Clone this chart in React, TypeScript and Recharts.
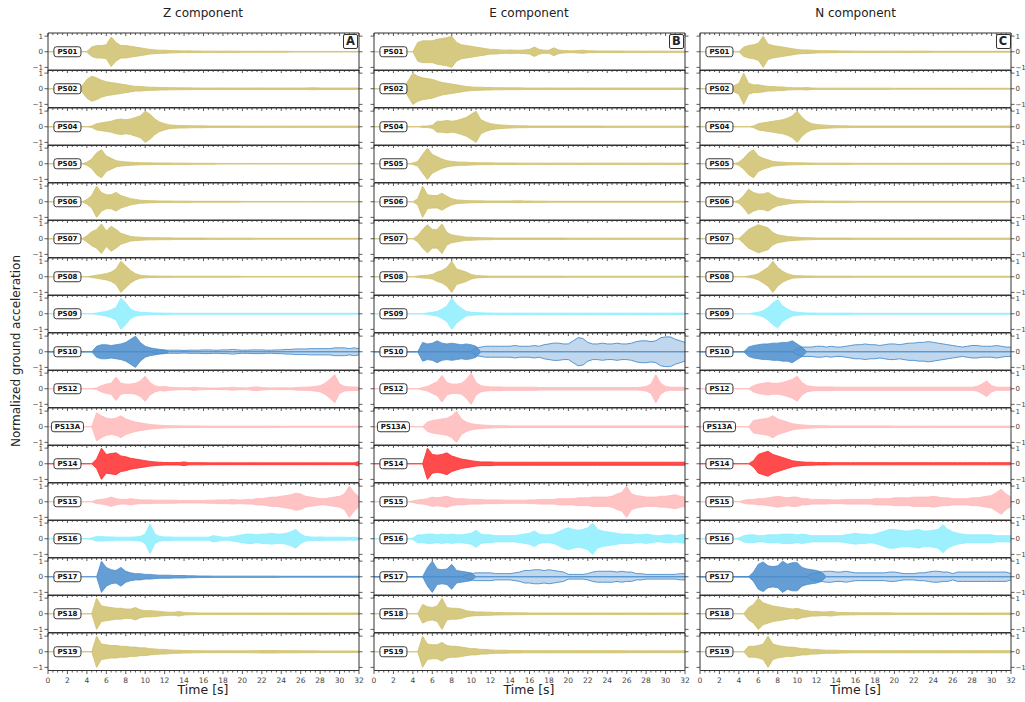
import { Area, AreaChart, ReferenceDot, XAxis, YAxis } from "recharts"

// time axis, one sample every 0.5 s
const TIME = [
  0, 0.5, 1, 1.5, 2, 2.5, 3, 3.5, 4, 4.5, 5, 5.5, 6, 6.5, 7, 7.5,
  8, 8.5, 9, 9.5, 10, 10.5, 11, 11.5, 12, 12.5, 13, 13.5, 14, 14.5, 15, 15.5,
  16, 16.5, 17, 17.5, 18, 18.5, 19, 19.5, 20, 20.5, 21, 21.5, 22, 22.5, 23, 23.5,
  24, 24.5, 25, 25.5, 26, 26.5, 27, 27.5, 28, 28.5, 29, 29.5, 30, 30.5, 31, 31.5, 32,
]
const Y_TICKS = [-1, 0, 1]

const STATIONS = ["PS01", "PS02", "PS04", "PS05", "PS06", "PS07", "PS08", "PS09", "PS10", "PS12", "PS13A", "PS14", "PS15", "PS16", "PS17", "PS18", "PS19"]

const OLIVE = "#cfc06c"
const CYAN = "#8ceeff"
const BLUE = "#4a8dcc"
const PINK = "#ffb9b9"
const RED = "#ff2b2b"
const STATION_COLORS = [OLIVE, OLIVE, OLIVE, OLIVE, OLIVE, OLIVE, OLIVE, CYAN, BLUE, PINK, PINK, RED, PINK, CYAN, BLUE, OLIVE, OLIVE]

const COMPONENTS = ["Z component", "E component", "N component"]
const LETTERS = ["A", "B", "C"]

// ---- envelope amplitudes (normalized), Z component ----
const Z_PS01 = [
  0, 0, 0, 0, 0, 0, 0, 0,
  .02, .3, .4, .4, .45, .95, .6, .4,
  .4, .35, .3, .25, .2, .15, .12, .1,
  .1, .08, .07, .06, .05, .06, .05, .05,
  .04, .04, .04, .04, .04, .04, .04, .04,
  .03, .03, .03, .03, .03, .03, .03, .03,
  .03, .03, .02, .02, .02, .02, .02, .02,
  .02, .02, .02, .02, .02, .02, .02, .02,
  .02]
const Z_PS02 = [
  0, 0, 0, 0, 0, 0, 0, .2,
  .6, .8, .7, .55, .45, .4, .35, .3,
  .25, .2, .15, .15, .12, .1, .1, .08,
  .08, .07, .07, .06, .06, .06, .05, .05,
  .05, .05, .05, .05, .05, .05, .05, .05,
  .05, .05, .05, .05, .05, .05, .05, .05,
  .05, .05, .05, .05, .05, .05, .06, .06,
  .05, .05, .05, .05, .05, .05, .05, .05,
  .05]
const Z_PS04 = [
  0, 0, 0, 0, 0, 0, 0, 0,
  0, .05, .2, .25, .3, .35, .45, .5,
  .45, .5, .6, .7, 1, .8, .5, .3,
  .2, .12, .1, .08, .08, .07, .06, .06,
  .06, .05, .05, .05, .05, .05, .05, .05,
  .04, .04, .04, .04, .04, .04, .04, .04,
  .04, .04, .04, .04, .04, .04, .04, .04,
  .04, .04, .04, .04, .04, .04, .04, .04,
  .04]
const Z_PS05 = [
  0, 0, 0, 0, 0, 0, 0, 0,
  .1, .3, .7, .9, .5, .35, .2, .15,
  .12, .1, .08, .07, .06, .06, .05, .05,
  .05, .05, .04, .04, .04, .04, .03, .03,
  .03, .03, .03, .02, .02, .02, .02, .02,
  .02, .02, .02, .02, .02, .02, .02, .02,
  .02, .02, .02, .02, .02, .02, .02, .02,
  .02, .02, .02, .02, .02, .02, .02, .02,
  .02]
const Z_PS06 = [
  0, 0, 0, 0, 0, 0, 0, 0,
  .15, .4, 1, .6, .45, .45, .6, .4,
  .3, .2, .15, .1, .08, .07, .06, .05,
  .05, .05, .04, .04, .04, .04, .03, .03,
  .03, .03, .03, .03, .03, .03, .03, .03,
  .02, .02, .02, .02, .02, .02, .02, .02,
  .02, .02, .02, .02, .02, .02, .02, .02,
  .02, .02, .02, .02, .02, .02, .02, .02,
  .02]
const Z_PS07 = [
  0, 0, 0, 0, 0, 0, 0, 0,
  .2, .45, .6, .95, .5, .8, .6, .35,
  .25, .15, .12, .1, .08, .07, .07, .06,
  .06, .06, .05, .05, .05, .05, .05, .05,
  .05, .04, .04, .04, .04, .04, .04, .04,
  .04, .04, .04, .03, .03, .03, .03, .03,
  .03, .03, .03, .03, .03, .03, .03, .03,
  .03, .03, .03, .03, .03, .03, .03, .03,
  .03]
const Z_PS08 = [
  0, 0, 0, 0, 0, 0, 0, 0,
  0, .05, .1, .15, .2, .3, .5, 1,
  .7, .4, .2, .1, .07, .05, .05, .04,
  .04, .04, .03, .03, .03, .03, .03, .03,
  .03, .03, .03, .03, .03, .03, .03, .03,
  .02, .02, .02, .02, .02, .02, .02, .02,
  .02, .02, .02, .02, .02, .02, .02, .02,
  .02, .02, .02, .02, .02, .02, .02, .02,
  .02]
const Z_PS09 = [
  0, 0, 0, 0, 0, 0, 0, 0,
  0, 0, .05, .1, .15, .25, .4, 1,
  .7, .3, .15, .1, .08, .06, .05, .05,
  .04, .04, .03, .03, .03, .03, .03, .03,
  .03, .03, .03, .03, .03, .03, .03, .03,
  .03, .03, .03, .03, .03, .03, .03, .03,
  .03, .03, .03, .03, .03, .03, .03, .03,
  .03, .03, .03, .03, .03, .03, .03, .03,
  .03]
const Z_PS10 = [
  0, 0, 0, 0, 0, 0, 0, 0,
  0, 0, .35, .45, .45, .4, .45, .5,
  .6, .8, 1, .6, .35, .25, .2, .15,
  .12, 0, 0, 0, 0, 0, 0, 0,
  0, 0, 0, 0, 0, 0, 0, 0,
  0, 0, 0, 0, 0, 0, 0, 0,
  0, 0, 0, 0, 0, 0, 0, 0,
  0, 0, 0, 0, 0, 0, 0, 0,
  0]
const Z_PS10_WAVE = [
  0, 0, 0, 0, 0, 0, 0, 0,
  0, 0, 0, 0, 0, 0, 0, 0,
  0, 0, 0, 0, 0, 0, .1, .1,
  .1, .1, .1, .1, .08, .1, .1, .1,
  .12, .12, .1, .1, .12, .12, .15, .12,
  .1, .1, .12, .12, .12, .1, .1, .12,
  .12, .15, .15, .18, .18, .18, .2, .2,
  .2, .2, .2, .25, .25, .25, .2, .25,
  .2]
const Z_PS12 = [
  0, 0, 0, 0, 0, 0, 0, 0,
  0, 0, .05, .2, .3, .35, .75, .35,
  .3, .3, .35, .5, .8, .4, .2, .12,
  .15, .1, .08, .07, .06, .06, .1, .07,
  .06, .05, .05, .05, .06, .06, .1, .06,
  .06, .05, .1, .12, .08, .06, .05, .06,
  .06, .06, .05, .08, .1, .1, .12, .15,
  .2, .35, .6, .9, .3, .15, .12, .12,
  .1]
const Z_PS13A = [
  0, 0, 0, 0, 0, 0, 0, 0,
  0, 0, .9, .7, .55, .5, .55, .7,
  .5, .4, .3, .25, .2, .15, .12, .1,
  .08, .07, .06, .06, .05, .05, .05, .05,
  .04, .04, .04, .04, .04, .04, .04, .04,
  .04, .04, .04, .04, .04, .04, .04, .04,
  .03, .03, .03, .03, .03, .03, .03, .03,
  .03, .03, .03, .03, .03, .03, .03, .03,
  .03]
const Z_PS14 = [
  0, 0, 0, 0, 0, 0, 0, 0,
  0, 0, .3, 1, .6, .65, .7, .5,
  .45, .35, .3, .25, .2, .15, .12, .1,
  .08, .08, .08, .08, .12, .07, .07, .07,
  .07, .06, .06, .06, .06, .06, .06, .06,
  .06, .06, .06, .06, .06, .06, .06, .06,
  .06, .06, .06, .06, .06, .06, .06, .06,
  .06, .06, .06, .06, .06, .06, .06, .06,
  .15]
const Z_PS15 = [
  0, 0, 0, 0, 0, 0, 0, 0,
  0, 0, .12, .15, .2, .3, .2, .15,
  .15, .2, .15, .12, .12, .12, .1, .1,
  .1, .1, .1, .08, .08, .08, .08, .08,
  .08, .1, .1, .12, .12, .12, .15, .12,
  .12, .15, .15, .2, .2, .25, .3, .3,
  .35, .4, .45, .55, .5, .35, .3, .25,
  .2, .2, .25, .3, .35, .5, 1, .6,
  .3]
const Z_PS16 = [
  0, 0, 0, 0, 0, 0, 0, 0,
  0, .05, .15, .15, .12, .12, .1, .1,
  .1, .1, .12, .15, .3, .95, .3, .15,
  .12, .12, .1, .1, .1, .1, .1, .1,
  .1, .1, .2, .15, .1, .1, .15, .2,
  .25, .3, .3, .25, .3, .3, .35, .3,
  .3, .35, .45, .6, .3, .15, .12, .1,
  .12, .1, .1, .1, .1, .1, .08, .1,
  .08]
const Z_PS17 = [
  0, 0, 0, 0, 0, 0, 0, 0,
  0, 0, 0, 1, .6, .45, .4, .6,
  .35, .25, .2, .2, .15, .15, .12, .1,
  .1, .1, .08, .08, .08, .06, .06, .05,
  .05, .05, .04, .04, .04, .04, .04, .04,
  .04, .04, .04, .04, .04, .04, .04, .04,
  .03, .03, .03, .03, .03, .03, .03, .03,
  .03, .03, .03, .03, .03, .03, .03, .03,
  .03]
const Z_PS18 = [
  0, 0, 0, 0, 0, 0, 0, 0,
  0, 0, 1, .5, .45, .4, .35, .35,
  .3, .3, .4, .25, .2, .2, .18, .15,
  .12, .1, .1, .15, .08, .07, .06, .05,
  .05, .05, .05, .05, .05, .05, .05, .05,
  .05, .05, .05, .05, .05, .05, .05, .05,
  .05, .05, .05, .05, .05, .05, .05, .05,
  .05, .05, .05, .05, .05, .05, .05, .05,
  .05]
const Z_PS19 = [
  0, 0, 0, 0, 0, 0, 0, 0,
  0, 0, 1, .5, .45, .4, .4, .35,
  .35, .3, .3, .25, .25, .2, .18, .15,
  .15, .12, .1, .1, .08, .08, .07, .07,
  .06, .06, .06, .06, .06, .06, .06, .06,
  .06, .06, .07, .07, .08, .08, .08, .08,
  .07, .07, .07, .07, .06, .06, .06, .06,
  .05, .05, .05, .05, .05, .05, .05, .05,
  .05]

// ---- E component ----
const E_PS01 = [
  0, 0, 0, 0, 0, 0, 0, 0,
  0, .6, .7, .7, .7, .8, .85, .9,
  1, .6, .45, .4, .35, .3, .25, .2,
  .15, .15, .12, .1, .12, .1, .1, .12,
  .15, .3, .15, .1, .1, .25, .12, .08,
  .06, .06, .08, .1, .06, .06, .05, .05,
  .05, .05, .05, .05, .04, .04, .04, .04,
  .04, .04, .04, .04, .04, .04, .04, .04,
  .04]
const E_PS02 = [
  0, 0, 0, 0, 0, 0, 0, .5,
  1, .8, .7, .65, .6, .5, .4, .35,
  .3, .25, .2, .15, .12, .1, .1, .08,
  .08, .07, .07, .06, .06, .06, .06, .05,
  .05, .05, .05, .05, .05, .05, .05, .05,
  .05, .05, .05, .05, .05, .05, .05, .05,
  .05, .05, .05, .05, .05, .05, .05, .05,
  .05, .05, .05, .05, .05, .05, .05, .05,
  .05]
const E_PS04 = [
  0, 0, 0, 0, 0, 0, 0, 0,
  0, 0, .05, .05, .1, .35, .35, .4,
  .35, .4, .5, .6, .8, 1, .45, .3,
  .2, .15, .12, .1, .08, .07, .06, .06,
  .05, .05, .05, .05, .05, .05, .05, .05,
  .05, .05, .05, .05, .05, .05, .05, .05,
  .04, .04, .04, .04, .04, .04, .04, .04,
  .04, .04, .04, .04, .04, .04, .04, .04,
  .04]
const E_PS05 = [
  0, 0, 0, 0, 0, 0, 0, 0,
  .05, .15, .6, 1, .6, .45, .3, .2,
  .15, .12, .1, .1, .08, .07, .06, .06,
  .06, .05, .05, .05, .05, .05, .04, .04,
  .04, .04, .04, .04, .04, .04, .04, .04,
  .04, .04, .04, .04, .04, .04, .04, .04,
  .04, .04, .04, .04, .04, .04, .04, .04,
  .04, .04, .04, .04, .04, .04, .04, .04,
  .04]
const E_PS06 = [
  0, 0, 0, 0, 0, 0, 0, 0,
  0, .2, 1, .45, .4, .4, .55, .35,
  .2, .12, .1, .08, .07, .06, .06, .05,
  .05, .05, .05, .05, .05, .06, .06, .05,
  .05, .04, .04, .04, .03, .03, .03, .03,
  .03, .03, .03, .03, .03, .03, .03, .03,
  .03, .03, .03, .03, .03, .03, .03, .03,
  .03, .03, .03, .03, .03, .03, .03, .03,
  .03]
const E_PS07 = [
  0, 0, 0, 0, 0, 0, 0, 0,
  0, .2, .6, .9, .6, .6, .95, .4,
  .25, .2, .15, .1, .1, .08, .07, .06,
  .06, .05, .05, .05, .05, .05, .05, .05,
  .05, .05, .05, .05, .05, .05, .05, .05,
  .04, .04, .04, .04, .04, .04, .04, .04,
  .04, .04, .04, .04, .04, .04, .04, .04,
  .04, .04, .04, .04, .04, .04, .04, .04,
  .04]
const E_PS08 = [
  0, 0, 0, 0, 0, 0, 0, 0,
  0, .05, .08, .1, .15, .3, .4, .6,
  1, .5, .4, .3, .15, .08, .06, .05,
  .04, .04, .04, .04, .04, .04, .04, .04,
  .04, .04, .04, .04, .04, .04, .04, .04,
  .03, .03, .03, .03, .03, .03, .03, .03,
  .03, .03, .03, .03, .03, .03, .03, .03,
  .03, .03, .03, .03, .03, .03, .03, .03,
  .03]
const E_PS09 = [
  0, 0, 0, 0, 0, 0, 0, 0,
  0, 0, 0, .05, .1, .15, .3, .5,
  1, .6, .35, .15, .1, .08, .06, .05,
  .05, .04, .04, .04, .04, .04, .04, .04,
  .04, .04, .04, .04, .04, .04, .04, .04,
  .04, .04, .04, .04, .04, .04, .04, .04,
  .04, .04, .04, .04, .04, .04, .04, .04,
  .04, .04, .04, .04, .04, .04, .04, .04,
  .04]
const E_PS10 = [
  0, 0, 0, 0, 0, 0, 0, 0,
  0, 0, .6, .5, .55, .7, .55, .5,
  .55, .5, .45, .5, .45, .35, 0, 0,
  0, 0, 0, 0, 0, 0, 0, 0,
  0, 0, 0, 0, 0, 0, 0, 0,
  0, 0, 0, 0, 0, 0, 0, 0,
  0, 0, 0, 0, 0, 0, 0, 0,
  0, 0, 0, 0, 0, 0, 0, 0,
  0]
const E_PS10_WAVE = [
  0, 0, 0, 0, 0, 0, 0, 0,
  0, 0, 0, 0, 0, 0, 0, 0,
  0, 0, 0, 0, 0, .25, .3, .35,
  .35, .35, .35, .35, .35, .4, .35, .35,
  .35, .4, .35, .45, .5, .55, .55, .5,
  .5, .7, .9, .85, .6, .5, .5, .55,
  .5, .5, .55, .5, .5, .55, .65, .7,
  .7, .65, .7, .9, .95, .95, .8, .7,
  .6]
const E_PS12 = [
  0, 0, 0, 0, 0, 0, 0, 0,
  0, 0, .08, .15, .3, .45, .85, .4,
  .3, .3, .35, .6, 1, .4, .2, .15,
  .12, .12, .12, .1, .1, .1, .1, .1,
  .1, .1, .08, .08, .08, .08, .08, .08,
  .08, .08, .08, .08, .08, .08, .08, .08,
  .08, .08, .08, .08, .08, .08, .08, .1,
  .15, .3, .9, .35, .15, .1, .1, .1,
  .1]
const E_PS13A = [
  0, 0, 0, 0, 0, 0, 0, 0,
  0, 0, 0, .3, .4, .45, .5, .55,
  .7, 1, .5, .3, .2, .15, .12, .1,
  .08, .07, .06, .06, .05, .05, .05, .05,
  .05, .05, .05, .05, .05, .05, .05, .05,
  .05, .05, .05, .05, .05, .05, .05, .05,
  .05, .05, .05, .05, .05, .05, .05, .05,
  .05, .05, .05, .05, .05, .05, .05, .05,
  .05]
const E_PS14 = [
  0, 0, 0, 0, 0, 0, 0, 0,
  0, 0, 0, 1, .6, .55, .6, .7,
  .5, .4, .3, .25, .2, .15, .12, .12,
  .12, .1, .1, .1, .1, .1, .1, .1,
  .1, .1, .1, .1, .1, .1, .1, .1,
  .1, .1, .1, .1, .1, .1, .1, .1,
  .1, .1, .1, .1, .1, .1, .1, .1,
  .1, .1, .1, .1, .1, .1, .1, .1,
  .1]
const E_PS15 = [
  0, 0, 0, 0, 0, 0, 0, 0,
  .05, .12, .15, .2, .3, .25, .3, .35,
  .25, .2, .2, .18, .15, .15, .15, .12,
  .12, .12, .12, .1, .1, .1, .1, .1,
  .12, .12, .15, .15, .15, .15, .2, .2,
  .2, .2, .25, .25, .25, .3, .3, .3,
  .3, .35, .5, .6, 1, .5, .4, .35,
  .3, .3, .3, .35, .35, .4, .45, .35,
  .3]
const E_PS16 = [
  0, 0, 0, 0, 0, 0, 0, 0,
  .05, .25, .25, .3, .3, .25, .3, .25,
  .3, .25, .25, .3, .35, .55, .3, .25,
  .25, .2, .2, .2, .2, .2, .25, .3,
  .35, .5, .3, .25, .25, .3, .45, .6,
  .7, .6, .55, .6, .7, 1, .6, .5,
  .45, .4, .35, .3, .3, .3, .25, .25,
  .3, .25, .2, .2, .25, .25, .2, .25,
  .3]
const E_PS17 = [
  0, 0, 0, 0, 0, 0, 0, 0,
  0, 0, 0, .6, 1, .5, .45, .5,
  .8, .4, .35, .3, .25, 0, 0, 0,
  0, 0, 0, 0, 0, 0, 0, 0,
  0, 0, 0, 0, 0, 0, 0, 0,
  0, 0, 0, 0, 0, 0, 0, 0,
  0, 0, 0, 0, 0, 0, 0, 0,
  0, 0, 0, 0, 0, 0, 0, 0,
  0]
const E_PS17_WAVE = [
  0, 0, 0, 0, 0, 0, 0, 0,
  0, 0, 0, 0, 0, 0, 0, 0,
  0, 0, 0, .1, .2, .25, .25, .25,
  .25, .2, .2, .2, .2, .25, .3, .4,
  .4, .45, .45, .4, .45, .4, .35, .3,
  .15, .15, .15, .15, .2, .3, .35, .35,
  .35, .35, .3, .35, .3, .3, .2, .2,
  .15, .15, .15, .15, .15, .15, .15, .2,
  .2]
const E_PS18 = [
  0, 0, 0, 0, 0, 0, 0, 0,
  0, 0, .6, .45, .4, .5, 1, .4,
  .35, .35, .3, .2, .15, .12, .12, .1,
  .1, .08, .08, .07, .07, .06, .06, .06,
  .05, .05, .05, .05, .05, .05, .05, .05,
  .05, .05, .05, .05, .05, .05, .05, .05,
  .05, .05, .05, .05, .05, .05, .05, .05,
  .05, .05, .05, .05, .05, .05, .05, .05,
  .05]
const E_PS19 = [
  0, 0, 0, 0, 0, 0, 0, 0,
  0, 0, 1, .5, .45, .45, .6, .4,
  .35, .35, .3, .25, .2, .2, .15, .15,
  .12, .1, .1, .1, .08, .08, .08, .07,
  .07, .07, .07, .07, .07, .07, .07, .07,
  .07, .07, .07, .07, .07, .07, .07, .07,
  .07, .07, .07, .07, .06, .06, .06, .06,
  .06, .06, .06, .06, .06, .06, .06, .06,
  .06]

// ---- N component ----
const N_PS01 = [
  0, 0, 0, 0, 0, 0, 0, 0,
  0, .3, .4, .45, .55, 1, .5, .4,
  .35, .3, .25, .2, .15, .12, .12, .1,
  .08, .07, .07, .06, .06, .05, .05, .05,
  .04, .04, .04, .04, .04, .04, .04, .04,
  .04, .04, .04, .04, .04, .04, .04, .04,
  .03, .03, .03, .03, .03, .03, .03, .03,
  .03, .03, .03, .03, .03, .03, .03, .03,
  .03]
const N_PS02 = [
  0, 0, 0, 0, 0, 0, 0, .2,
  .35, 1, .35, .25, .25, .2, .15, .15,
  .12, .12, .08, .07, .06, .06, .08, .05,
  .04, .04, .04, .04, .04, .04, .04, .04,
  .04, .04, .04, .04, .04, .04, .04, .04,
  .03, .03, .03, .03, .03, .03, .03, .03,
  .03, .03, .03, .03, .03, .03, .03, .03,
  .03, .03, .03, .03, .03, .03, .03, .03,
  .03]
const N_PS04 = [
  0, 0, 0, 0, 0, 0, 0, 0,
  0, 0, 0, .05, .2, .25, .3, .35,
  .4, .45, .55, .7, 1, .6, .35, .2,
  .15, .12, .1, .08, .07, .06, .06, .05,
  .05, .05, .05, .05, .05, .05, .05, .05,
  .05, .05, .05, .05, .05, .05, .05, .05,
  .05, .05, .05, .05, .05, .05, .05, .05,
  .05, .05, .05, .05, .05, .05, .05, .05,
  .05]
const N_PS05 = [
  0, 0, 0, 0, 0, 0, 0, 0,
  .1, .35, .7, .9, .5, .35, .25, .15,
  .12, .1, .08, .07, .06, .06, .05, .05,
  .04, .04, .04, .04, .04, .04, .04, .04,
  .03, .03, .03, .03, .03, .03, .03, .03,
  .03, .03, .03, .03, .03, .03, .03, .03,
  .03, .03, .03, .03, .03, .03, .03, .03,
  .03, .03, .03, .03, .03, .03, .03, .03,
  .03]
const N_PS06 = [
  0, 0, 0, 0, 0, 0, 0, 0,
  .1, .4, .8, .6, .5, .5, .6, .4,
  .25, .2, .15, .1, .08, .07, .06, .05,
  .05, .05, .04, .04, .04, .04, .04, .04,
  .03, .03, .03, .03, .03, .03, .03, .03,
  .03, .03, .03, .03, .03, .03, .03, .03,
  .03, .03, .03, .03, .03, .03, .03, .03,
  .03, .03, .03, .03, .03, .03, .03, .03,
  .03]
const N_PS07 = [
  0, 0, 0, 0, 0, 0, 0, 0,
  0, .3, .6, .75, .9, .8, .7, .4,
  .25, .2, .15, .12, .1, .08, .07, .06,
  .05, .05, .05, .05, .05, .05, .05, .05,
  .04, .04, .04, .04, .04, .04, .04, .04,
  .04, .04, .04, .04, .04, .04, .04, .04,
  .04, .04, .04, .04, .04, .04, .04, .04,
  .04, .04, .04, .04, .04, .04, .04, .04,
  .04]
const N_PS08 = [
  0, 0, 0, 0, 0, 0, 0, 0,
  0, 0, .05, .1, .2, .4, .6, 1,
  .6, .35, .2, .1, .07, .06, .05, .05,
  .04, .04, .04, .04, .04, .04, .04, .04,
  .03, .03, .03, .03, .03, .03, .03, .03,
  .03, .03, .03, .03, .03, .03, .03, .03,
  .03, .03, .03, .03, .03, .03, .03, .03,
  .03, .03, .03, .03, .03, .03, .03, .03,
  .03]
const N_PS09 = [
  0, 0, 0, 0, 0, 0, 0, 0,
  0, 0, 0, .05, .1, .2, .4, .7,
  .9, .5, .3, .15, .1, .07, .05, .05,
  .04, .04, .04, .04, .04, .04, .04, .04,
  .03, .03, .03, .03, .03, .03, .03, .03,
  .03, .03, .03, .03, .03, .03, .03, .03,
  .03, .03, .03, .03, .03, .03, .03, .03,
  .03, .03, .03, .03, .03, .03, .03, .03,
  .03]
const N_PS10 = [
  0, 0, 0, 0, 0, 0, 0, 0,
  0, 0, .3, .4, .45, .5, .5, .55,
  .55, .6, .6, .7, .5, .3, 0, 0,
  0, 0, 0, 0, 0, 0, 0, 0,
  0, 0, 0, 0, 0, 0, 0, 0,
  0, 0, 0, 0, 0, 0, 0, 0,
  0, 0, 0, 0, 0, 0, 0, 0,
  0, 0, 0, 0, 0, 0, 0, 0,
  0]
const N_PS10_WAVE = [
  0, 0, 0, 0, 0, 0, 0, 0,
  0, 0, 0, 0, 0, 0, 0, 0,
  0, 0, 0, 0, .2, .3, .3, .3,
  .35, .35, .3, .35, .3, .3, .35, .4,
  .45, .45, .5, .45, .45, .4, .45, .5,
  .5, .45, .5, .55, .55, .6, .6, .65,
  .6, .55, .5, .45, .4, .35, .3, .35,
  .4, .4, .35, .35, .35, .4, .35, .3,
  .3]
const N_PS12 = [
  0, 0, 0, 0, 0, 0, 0, 0,
  0, 0, 0, .2, .3, .35, .4, .35,
  .35, .4, .5, .6, .8, .4, .2, .15,
  .12, .12, .12, .12, .1, .1, .1, .1,
  .1, .1, .1, .1, .1, .1, .1, .1,
  .1, .1, .1, .1, .1, .1, .1, .1,
  .1, .1, .1, .1, .1, .1, .1, .1,
  .1, .15, .3, .5, .2, .1, .1, .1,
  .1]
const N_PS13A = [
  0, 0, 0, 0, 0, 0, 0, 0,
  0, 0, 0, .4, .45, .5, .55, .7,
  .5, .4, .3, .2, .15, .12, .1, .08,
  .07, .06, .06, .05, .05, .05, .05, .05,
  .05, .05, .05, .05, .05, .05, .05, .05,
  .04, .04, .04, .04, .04, .04, .04, .04,
  .04, .04, .04, .04, .04, .04, .04, .04,
  .04, .04, .04, .04, .04, .04, .04, .04,
  .04]
const N_PS14 = [
  0, 0, 0, 0, 0, 0, 0, 0,
  0, 0, 0, .2, .6, .7, .8, .6,
  .5, .4, .3, .2, .15, .12, .1, .1,
  .08, .08, .08, .07, .07, .07, .07, .07,
  .07, .07, .07, .07, .07, .07, .07, .07,
  .07, .07, .07, .07, .07, .07, .07, .07,
  .07, .07, .07, .07, .07, .07, .07, .07,
  .07, .07, .07, .07, .07, .07, .07, .07,
  .07]
const N_PS15 = [
  0, 0, 0, 0, 0, 0, 0, 0,
  0, .1, .15, .15, .2, .2, .25, .3,
  .35, .3, .25, .3, .3, .2, .2, .15,
  .15, .15, .15, .12, .12, .12, .15, .15,
  .15, .15, .15, .15, .2, .2, .2, .2,
  .25, .25, .25, .25, .3, .3, .3, .3,
  .35, .3, .25, .25, .2, .2, .2, .2,
  .25, .25, .3, .35, .4, .6, .8, .5,
  .3]
const N_PS16 = [
  0, 0, 0, 0, 0, 0, 0, 0,
  .05, .2, .25, .25, .2, .2, .25, .25,
  .25, .3, .3, .3, .25, .3, .25, .2,
  .2, .2, .2, .2, .2, .2, .25, .3,
  .35, .3, .3, .25, .3, .4, .5, .6,
  .6, .55, .5, .5, .55, .6, .5, .5,
  .55, .6, .9, .6, .45, .35, .3, .25,
  .25, .25, .25, .25, .25, .2, .2, .2,
  .2]
const N_PS17 = [
  0, 0, 0, 0, 0, 0, 0, 0,
  0, 0, 0, .3, .8, .95, .7, .65,
  .7, 1, .8, .9, .9, .6, .5, .45,
  .4, .3, 0, 0, 0, 0, 0, 0,
  0, 0, 0, 0, 0, 0, 0, 0,
  0, 0, 0, 0, 0, 0, 0, 0,
  0, 0, 0, 0, 0, 0, 0, 0,
  0, 0, 0, 0, 0, 0, 0, 0,
  0]
const N_PS17_WAVE = [
  0, 0, 0, 0, 0, 0, 0, 0,
  0, 0, 0, 0, 0, 0, 0, 0,
  0, 0, 0, 0, 0, 0, 0, .2,
  .25, .3, .35, .35, .3, .3, .35, .3,
  .25, .25, .25, .25, .25, .25, .25, .3,
  .3, .25, .2, .2, .2, .25, .25, .3,
  .35, .35, .3, .3, .2, .3, .3, .3,
  .3, .3, .3, .3, .3, .3, .3, .3,
  .2]
const N_PS18 = [
  0, 0, 0, 0, 0, 0, 0, 0,
  0, 0, .4, .6, 1, .7, .6, .5,
  .45, .4, .35, .3, .35, .25, .2, .15,
  .15, .12, .12, .15, .1, .08, .08, .07,
  .07, .06, .06, .06, .06, .06, .06, .06,
  .05, .05, .05, .05, .05, .05, .05, .05,
  .05, .05, .05, .05, .05, .05, .05, .05,
  .05, .05, .05, .05, .05, .05, .05, .05,
  .05]
const N_PS19 = [
  0, 0, 0, 0, 0, 0, 0, 0,
  0, 0, .35, .35, .4, .5, 1, .5,
  .4, .35, .3, .3, .25, .2, .2, .15,
  .15, .12, .1, .1, .1, .08, .08, .07,
  .07, .07, .07, .07, .07, .07, .07, .07,
  .07, .07, .07, .07, .07, .07, .07, .07,
  .07, .07, .07, .07, .07, .07, .07, .07,
  .07, .07, .07, .07, .07, .07, .07, .07,
  .07]

const Z_TRACES = [Z_PS01, Z_PS02, Z_PS04, Z_PS05, Z_PS06, Z_PS07, Z_PS08, Z_PS09, Z_PS10, Z_PS12, Z_PS13A, Z_PS14, Z_PS15, Z_PS16, Z_PS17, Z_PS18, Z_PS19]
const E_TRACES = [E_PS01, E_PS02, E_PS04, E_PS05, E_PS06, E_PS07, E_PS08, E_PS09, E_PS10, E_PS12, E_PS13A, E_PS14, E_PS15, E_PS16, E_PS17, E_PS18, E_PS19]
const N_TRACES = [N_PS01, N_PS02, N_PS04, N_PS05, N_PS06, N_PS07, N_PS08, N_PS09, N_PS10, N_PS12, N_PS13A, N_PS14, N_PS15, N_PS16, N_PS17, N_PS18, N_PS19]
// long-period oscillating tails, drawn as an open band
const Z_WAVES: Record<string, number[]> = { PS10: Z_PS10_WAVE }
const E_WAVES: Record<string, number[]> = { PS10: E_PS10_WAVE, PS17: E_PS17_WAVE }
const N_WAVES: Record<string, number[]> = { PS10: N_PS10_WAVE, PS17: N_PS17_WAVE }

const ALL_TRACES = [Z_TRACES, E_TRACES, N_TRACES]
const ALL_WAVES = [Z_WAVES, E_WAVES, N_WAVES]

// layout
const PANEL_LEFT = [47.5, 373.5, 700]
const PLOT_W = 311
const PLOT_TOP = 32.5
const ROW_H = 37.5
const SIDE = 24
const BOTTOM = 26
const AXIS = "#333"
const LABEL = "#444"
const FONT = "'DejaVu Sans', sans-serif"

const fmt = (v: number) => (v < 0 ? `\u2212${Math.abs(v)}` : String(v))

function topTick(props: any) {
  const { x, y, payload } = props
  const major = payload.value % 2 === 0
  return (
    <line x1={x} x2={x} y1={y} y2={y + (major ? 3 : 2)} stroke={AXIS} strokeWidth={0.8} />
  )
}

function bottomTick(props: any) {
  const { x, y, payload } = props
  const major = payload.value % 2 === 0
  return (
    <g>
      <line x1={x} x2={x} y1={y} y2={y + (major ? 3.5 : 2)} stroke={AXIS} strokeWidth={0.8} />
      {major && (
        <text x={x} y={y + 12} textAnchor="middle" fontSize={7.5} fill={LABEL}>
          {payload.value}
        </text>
      )}
    </g>
  )
}

const leftTick = (labelled: boolean) => (props: any) => {
  const { x, y, payload } = props
  return (
    <g>
      <line x1={x} x2={x - 3.5} y1={y} y2={y} stroke={AXIS} strokeWidth={0.8} />
      {labelled && (
        <text x={x - 5} y={y} dy="0.35em" textAnchor="end" fontSize={7.2} fill={LABEL}>
          {fmt(payload.value)}
        </text>
      )}
    </g>
  )
}

const rightTick = (labelled: boolean) => (props: any) => {
  const { x, y, payload } = props
  return (
    <g>
      <line x1={x} x2={x + 3.5} y1={y} y2={y} stroke={AXIS} strokeWidth={0.8} />
      {labelled && (
        <text x={x + 4.5} y={y} dy="0.35em" textAnchor="start" fontSize={7} fill={LABEL}>
          {fmt(payload.value)}
        </text>
      )}
    </g>
  )
}

function StationTag({ cx, cy, name }: { cx: number; cy: number; name: string }) {
  const w = name.length * 5 + 7
  return (
    <g>
      <rect x={cx - w / 2} y={cy - 5} width={w} height={10} rx={2.5} fill="#fff" stroke="#222" strokeWidth={0.9} />
      <text x={cx} y={cy} dy="0.36em" textAnchor="middle" fontSize={7} fontWeight="bold" fill="#111">
        {name}
      </text>
    </g>
  )
}

interface TraceRowProps {
  values: number[]
  wave?: number[]
  color: string
  station: string
  panel: number
  row: number
}

function TraceRow({ values, wave, color, station, panel, row }: TraceRowProps) {
  const last = row === STATIONS.length - 1
  const data = TIME.map((t, i) => ({
    t,
    env: [-values[i], values[i]],
    wave: wave ? [-wave[i], wave[i]] : null,
  }))

  // axes are 1px thick boxes: the chart is shifted by 1px so the plot area lands on the row
  return (
    <div style={{ position: "absolute", left: PANEL_LEFT[panel] - SIDE, top: PLOT_TOP + row * ROW_H - 1 }}>
      <AreaChart
        width={PLOT_W + 2 * SIDE}
        height={ROW_H + 2 + (last ? BOTTOM : 0)}
        data={data}
        margin={{ top: 0, right: SIDE - 1, bottom: last ? BOTTOM : 0, left: SIDE - 1 }}
      >
        <XAxis
          dataKey="t"
          type="number"
          domain={[0, 32]}
          ticks={TIME}
          interval={0}
          height={1}
          tickSize={0}
          tickMargin={0}
          tickLine={false}
          axisLine={{ stroke: AXIS, strokeWidth: 1 }}
          tick={last ? bottomTick : false}
        />
        <XAxis
          xAxisId="top"
          orientation="top"
          dataKey="t"
          type="number"
          domain={[0, 32]}
          ticks={TIME}
          interval={0}
          height={1}
          tickSize={0}
          tickMargin={0}
          tickLine={false}
          axisLine={{ stroke: AXIS, strokeWidth: 1 }}
          tick={topTick}
        />
        <YAxis
          type="number"
          domain={[-1.2, 1.2]}
          ticks={Y_TICKS}
          interval={0}
          width={1}
          tickSize={0}
          tickMargin={0}
          tickLine={false}
          axisLine={{ stroke: AXIS, strokeWidth: 1 }}
          tick={leftTick(panel === 0)}
        />
        <YAxis
          yAxisId="right"
          orientation="right"
          dataKey="env"
          type="number"
          domain={[-1.2, 1.2]}
          ticks={Y_TICKS}
          interval={0}
          width={1}
          tickSize={0}
          tickMargin={0}
          tickLine={false}
          axisLine={{ stroke: AXIS, strokeWidth: 1 }}
          tick={rightTick(panel === 2)}
        />
        {wave && (
          <Area
            dataKey="wave"
            type="linear"
            stroke={color}
            strokeWidth={0.9}
            fill={color}
            fillOpacity={0.35}
            dot={false}
            activeDot={false}
            isAnimationActive={false}
          />
        )}
        <Area
          dataKey="env"
          type="linear"
          stroke={color}
          strokeWidth={0.8}
          fill={color}
          fillOpacity={0.85}
          dot={false}
          activeDot={false}
          isAnimationActive={false}
        />
        <ReferenceDot
          x={2}
          y={0}
          r={0}
          shape={(p: any) => <StationTag cx={p.cx} cy={p.cy} name={station} />}
        />
      </AreaChart>
    </div>
  )
}

export default function App() {
  return (
    <div
      style={{
        position: "absolute",
        left: 0,
        top: 0,
        width: 1025,
        height: 702,
        background: "#fff",
        fontFamily: FONT,
        color: "#222",
      }}
    >
      {COMPONENTS.map((title, p) => (
        <div key={title}>
          <div
            style={{
              position: "absolute",
              left: PANEL_LEFT[p],
              width: PLOT_W,
              top: 6,
              textAlign: "center",
              fontSize: 12,
            }}
          >
            {title}
          </div>
          {STATIONS.map((st, r) => (
            <TraceRow
              key={st}
              values={ALL_TRACES[p][r]}
              wave={ALL_WAVES[p][st]}
              color={STATION_COLORS[r]}
              station={st}
              panel={p}
              row={r}
            />
          ))}
          <div
            style={{
              position: "absolute",
              left: PANEL_LEFT[p] + PLOT_W - 15.5,
              top: PLOT_TOP + 1,
              width: 15,
              height: 15,
              boxSizing: "border-box",
              border: `1px solid ${AXIS}`,
              borderRadius: 2,
              background: "#fff",
              fontWeight: "bold",
              fontSize: 11.5,
              lineHeight: "13px",
              textAlign: "center",
            }}
          >
            {LETTERS[p]}
          </div>
          <div
            style={{
              position: "absolute",
              left: PANEL_LEFT[p],
              width: PLOT_W,
              top: 682,
              textAlign: "center",
              fontSize: 12.5,
            }}
          >
            Time [s]
          </div>
        </div>
      ))}
      <div
        style={{
          position: "absolute",
          left: 16,
          top: 351,
          transform: "translate(-50%, -50%) rotate(-90deg)",
          whiteSpace: "nowrap",
          fontSize: 12,
        }}
      >
        Normalized ground acceleration
      </div>
    </div>
  )
}
